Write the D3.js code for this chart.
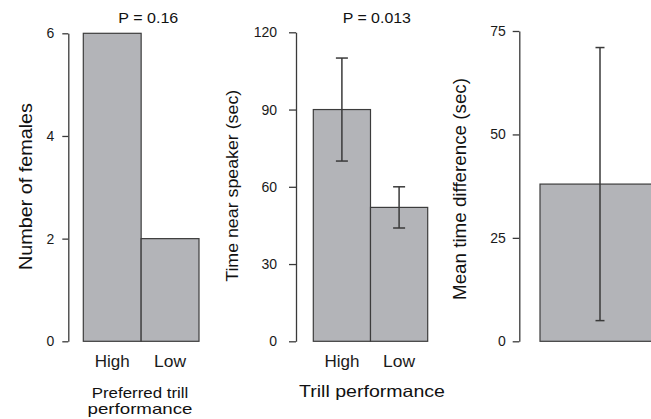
<!DOCTYPE html>
<html>
<head>
<meta charset="utf-8">
<script src="https://cdn.jsdelivr.net/npm/d3@7"></script>
<style>
  body { margin: 0; background: #fff; }
  svg { display: block; font-family: "Liberation Sans", Arial, Helvetica, sans-serif; }
  .tick text { fill: #1a1a1a; }
</style>
</head>
<body>
<div id="chart"></div>
<script>
// panel 1: number of females preferring each trill
var p1Cats = ["High", "Low"];
var p1Counts = [6, 2];
var p1Ticks = [0, 2, 4, 6];

// panel 2: time near speaker, mean with error
var p2Cats = ["High", "Low"];
var p2Means = [90, 52];
var p2Upper = [110, 60];
var p2Lower = [70, 44];
var p2Ticks = [0, 30, 60, 90, 120];

// panel 3: mean time difference
var p3Cats = ["diff"];
var p3Means = [38];
var p3Upper = [71];
var p3Lower = [5];
var p3Ticks = [0, 25, 50, 75];

var pLabels = ["P = 0.16", "P = 0.013"];

var width = 651, height = 419;
var barFill = "#b3b4b8", barStroke = "#3c3c3c", axisColor = "#3a3a3a";

var svg = d3.select("#chart")
  .append("svg")
    .attr("width", width)
    .attr("height", height);

// draws one panel: y axis, bars, optional error bars, x tick labels
function drawPanel(cfg) {
  var g = svg.append("g");

  var y = d3.scaleLinear()
    .domain([0, cfg.ticks[cfg.ticks.length - 1]])
    .range([cfg.y0, cfg.yTop]);

  var x = d3.scaleBand()
    .domain(cfg.cats)
    .range(cfg.xRange)
    .padding(0);

  // Y axis
  var ya = g.append("g")
    .attr("transform", "translate(" + cfg.axisX + ",0)")
    .call(d3.axisLeft(y)
      .tickValues(cfg.ticks)
      .tickFormat(d3.format("d"))
      .tickSize(cfg.tickSize)
      .tickSizeOuter(0)
      .tickPadding(cfg.tickPad));
  ya.selectAll("path, line").attr("stroke", axisColor).attr("stroke-width", 1.3);
  ya.selectAll("text").style("font-size", "14px");

  // bars
  g.selectAll("rect.bar")
    .data(cfg.values)
    .enter()
    .append("rect")
      .attr("class", "bar")
      .attr("x", function (d, i) { return x(cfg.cats[i]); })
      .attr("y", function (d) { return y(d); })
      .attr("width", x.bandwidth())
      .attr("height", function (d) { return y(0) - y(d); })
      .attr("fill", barFill)
      .attr("stroke", barStroke)
      .attr("stroke-width", 1.2);

  // error bars
  if (cfg.upper) {
    var cx = function (i) { return x(cfg.cats[i]) + x.bandwidth() / 2; };
    var eb = g.append("g").attr("stroke", "#3a3a3a").attr("stroke-width", 1.5);
    cfg.values.forEach(function (d, i) {
      eb.append("line")
        .attr("x1", cx(i)).attr("x2", cx(i))
        .attr("y1", y(cfg.upper[i])).attr("y2", y(cfg.lower[i]));
      [cfg.upper[i], cfg.lower[i]].forEach(function (v) {
        eb.append("line")
          .attr("x1", cx(i) - cfg.cap).attr("x2", cx(i) + cfg.cap)
          .attr("y1", y(v)).attr("y2", y(v));
      });
    });
  }

  // x tick labels
  if (cfg.showX) {
    var xa = g.append("g")
      .attr("transform", "translate(0," + cfg.y0 + ")")
      .call(d3.axisBottom(x).tickSize(0).tickPadding(14.5));
    xa.select(".domain").remove();
    xa.selectAll("text")
      .style("font-size", "16px")
      .attr("textLength", function (d) { return d === "High" ? 35 : 32; })
      .attr("lengthAdjust", "spacingAndGlyphs");
  }
  return g;
}

drawPanel({
  cats: p1Cats, values: p1Counts, ticks: p1Ticks,
  y0: 341.3, yTop: 33.3, xRange: [83.3, 199], axisX: 68.3,
  tickSize: 6, tickPad: 8, showX: true
});

drawPanel({
  cats: p2Cats, values: p2Means, upper: p2Upper, lower: p2Lower, ticks: p2Ticks,
  y0: 341.3, yTop: 32.3, xRange: [313.3, 427.7], axisX: 296,
  tickSize: 7, tickPad: 12, cap: 6, showX: true
});

drawPanel({
  cats: p3Cats, values: p3Means, upper: p3Upper, lower: p3Lower, ticks: p3Ticks,
  y0: 341.3, yTop: 31, xRange: [540, 660], axisX: 519.3,
  tickSize: 6.6, tickPad: 7, cap: 4.5, showX: false
});

// text helper
function addText(str, x, y, size, len, rotate) {
  svg.append("text")
    .attr("transform", "translate(" + x + "," + y + ")" + (rotate ? " rotate(-90)" : ""))
    .attr("text-anchor", "middle")
    .attr("textLength", len)
    .attr("lengthAdjust", "spacingAndGlyphs")
    .style("font-size", size + "px")
    .style("fill", "#111")
    .text(str);
}

// P values
addText(pLabels[0], 148.3, 23, 14.5, 60);
addText(pLabels[1], 376.8, 23, 14.5, 68.3);

// y axis titles
addText("Number of females", 31.7, 186.5, 18.5, 167, true);
addText("Time near speaker (sec)", 237.5, 185.8, 17, 192, true);
addText("Mean time difference (sec)", 466, 189, 17.5, 222, true);

// x axis titles
addText("Preferred trill", 140, 398, 15, 96.7);
addText("performance", 140, 414, 15, 105);
addText("Trill performance", 372, 397, 16.5, 146);
</script>
</body>
</html>
